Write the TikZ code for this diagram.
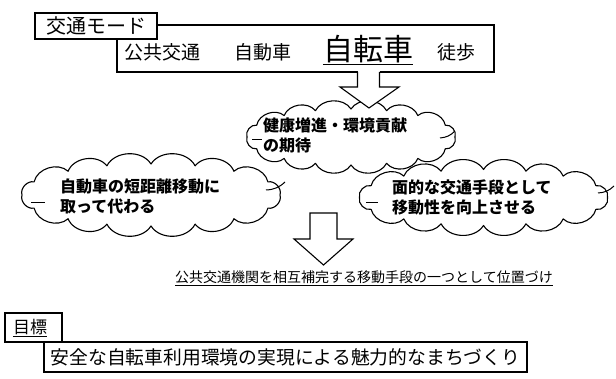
\documentclass[tikz,border=0pt]{standalone}
\usepackage{fontspec}
\newfontfamily\jp{Noto Sans CJK JP}
\newcommand\drawcloudshape[5]{%
  \coordinate (#1) at (#2,#3);
  \draw[cloudline] ({#2+#4},{#3})
    foreach \t in {25,50,70,90,110,130,155,180,205,230,250,270,290,310,335,360}
      { to[bend left=60] ({#2+#4*cos(\t)},{#3+#5*sin(\t)}) } -- cycle;
}
\begin{document}
\begin{tikzpicture}[x=1pt,y=-1pt,
  box/.style={draw, line width=1.1pt, inner sep=0pt, rectangle},
  cloudline/.style={draw, line width=1.1pt, fill=white, line join=round},
  ctext/.style={font=\jp\bfseries\fontsize{16}{20}\selectfont, align=left, inner sep=0pt, anchor=west},
  modetext/.style={font=\jp\fontsize{19}{22}\selectfont, inner sep=0pt, anchor=base},
  blockarrow/.style={draw, line width=1.1pt, line join=miter},
  uline/.style={line width=1pt}
]
\useasboundingbox (0,0) rectangle (616,379);

% mode box
\node[box, minimum width=377pt, minimum height=47pt] (modebox) at (305.5,48.5) {};
\node[box, fill=white, minimum width=122pt, minimum height=26pt, font=\jp\fontsize{20}{22}\selectfont] (modelabel) at (96,26) {交通モード};
\node[modetext] (pub) at (162,60) {公共交通};
\node[modetext] (car) at (263,60) {自動車};
\node[modetext, font=\jp\fontsize{30}{32}\selectfont] (bike) at (368,61) {自転車};
\node[modetext] (walk) at (456,60) {徒歩};
\draw[uline] ([yshift=-4pt]bike.base west) -- ([yshift=-4pt]bike.base east);

% clouds
\drawcloudshape{c1}{351}{137}{104}{28}
\drawcloudshape{c2}{151}{195}{129}{31}
\drawcloudshape{c3}{483.5}{197.5}{124}{28}

\draw[line width=1pt] (252,140) -- (262,140);
\draw[line width=1pt] (440,138) to[bend right=20] (455,131);
\draw[line width=1pt] (31,203) -- (45,203);
\draw[line width=1pt] (266,190) to[bend right=20] (285,182);
\draw[line width=1pt] (366,203) -- (378,203);
\draw[line width=1pt] (598,193) to[bend right=20] (614,186);

\node[ctext] (t1) at (263,135) {健康増進・環境貢献\\の期待};
\node[ctext] (t2) at (60,196) {自動車の短距離移動に\\取って代わる};
\node[ctext] (t3) at (392,197) {面的な交通手段として\\移動性を向上させる};

% arrow 1
\fill[white] (357.5,71) rectangle (379.5,88);
\draw[blockarrow, fill=white] (357.5,72) -- (357.5,87) -- (340,87) -- (369,108) -- (399,87) -- (379.5,87) -- (379.5,72);

% arrow 2
\draw[blockarrow, fill=white] (310,213) -- (310,239) -- (294,239) -- (323.5,265) -- (353,239) -- (337,239) -- (337,213) -- cycle;

% middle statement
\node[font=\jp\fontsize{14}{16}\selectfont, inner sep=0pt] (stmt) at (364,277) {公共交通機関を相互補完する移動手段の一つとして位置づけ};
\draw[uline] ([yshift=-3pt]stmt.base west) -- ([yshift=-3pt]stmt.base east);

% goal
\node[box, minimum width=483pt, minimum height=30pt] (goalbox) at (285.5,357) {};
\node[box, fill=white, minimum width=57pt, minimum height=29pt] (goallabelbox) at (33.5,327.5) {};
\node[font=\jp\fontsize{17}{19}\selectfont, inner sep=0pt] (goallabel) at (30,327) {目標};
\draw[uline] ([yshift=-3pt]goallabel.base west) -- ([yshift=-3pt]goallabel.base east);
\node[font=\jp\fontsize{18.8}{21}\selectfont, inner sep=0pt] (goaltext) at (285.5,357) {安全な自転車利用環境の実現による魅力的なまちづくり};
\end{tikzpicture}
\end{document}
